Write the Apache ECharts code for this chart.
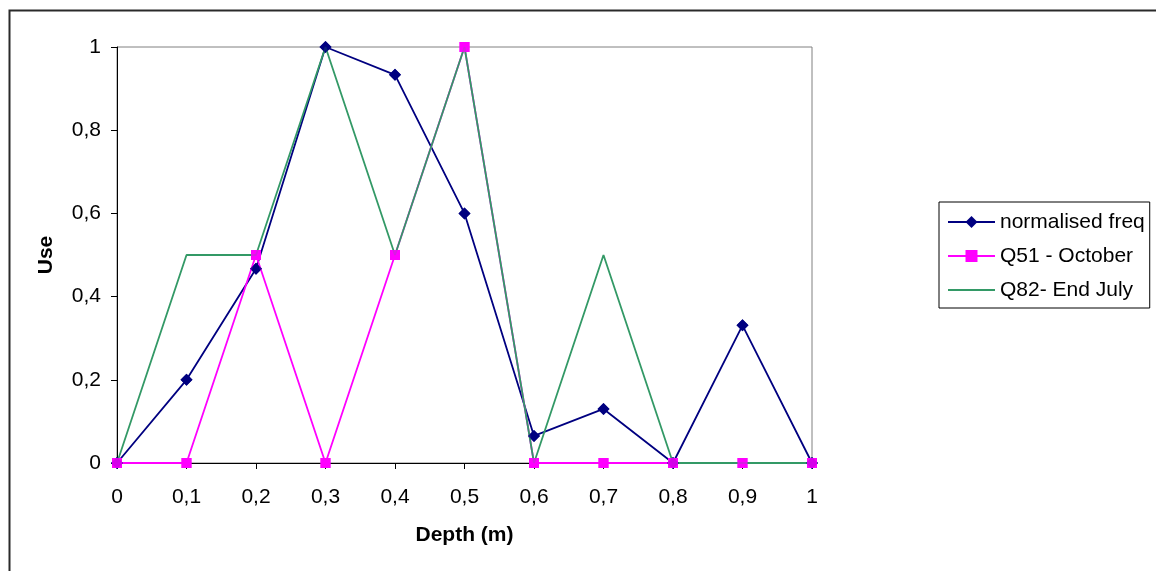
<!DOCTYPE html>
<html>
<head>
<meta charset="utf-8">
<script src="https://cdn.jsdelivr.net/npm/echarts@6/dist/echarts.min.js"></script>
<style>
html,body{margin:0;padding:0;background:#fff;}
#c{width:1156px;height:571px;}
</style>
</head>
<body>
<div id="c"></div>
<script>
const depthLabels = ['0','0,1','0,2','0,3','0,4','0,5','0,6','0,7','0,8','0,9','1'];
const normalisedFreq = [0, 0.2, 0.467, 1, 0.933, 0.6, 0.065, 0.13, 0, 0.331, 0];
const q51October = [0, 0, 0.5, 0, 0.5, 1, 0, 0, 0, 0, 0];
const q82EndJuly = [0, 0.5, 0.5, 1, 0.5, 1, 0, 0.5, 0, 0, 0];
const seriesNames = ['normalised freq', 'Q51 - October', 'Q82- End July'];

const FONT = '"Liberation Sans", Arial, sans-serif';
const fmt = v => String(+(+v).toFixed(1)).replace('.', ',');

const chart = echarts.init(document.getElementById('c'), null, {renderer: 'canvas'});
chart.setOption({
  animation: false,
  backgroundColor: '#fff',
  textStyle: {fontFamily: FONT},
  graphic: [{
    type: 'polyline',
    shape: {points: [[9.5, 571], [9.5, 10.5], [1156, 10.5]]},
    style: {stroke: '#2a2a2a', lineWidth: 2, fill: null},
    silent: true
  }],
  grid: {
    left: 117, top: 47, right: 344, bottom: 108,
    show: true, borderColor: '#808080', borderWidth: 1
  },
  legend: {
    data: [
      {name: seriesNames[0]},
      {name: seriesNames[1]},
      {name: seriesNames[2], itemStyle: {opacity: 0}}
    ],
    orient: 'vertical',
    left: 939, top: 202,
    padding: [8, 5, 6, 8],
    itemWidth: 47, itemHeight: 15, itemGap: 10,
    borderColor: '#000', borderWidth: 1,
    textStyle: {fontFamily: FONT, fontSize: 21, color: '#000', lineHeight: 24}
  },
  xAxis: {
    type: 'category',
    data: depthLabels,
    boundaryGap: false,
    name: 'Depth (m)',
    nameLocation: 'middle',
    nameGap: 62,
    nameTextStyle: {fontFamily: FONT, fontSize: 21, fontWeight: 'bold', color: '#000'},
    axisLine: {lineStyle: {color: '#000', width: 1}},
    axisTick: {show: true, length: 6, lineStyle: {color: '#000'}, alignWithLabel: true},
    axisLabel: {fontFamily: FONT, fontSize: 21, color: '#000', margin: 24},
    splitLine: {show: false}
  },
  yAxis: {
    type: 'value',
    min: 0, max: 1, interval: 0.2,
    name: 'Use',
    nameLocation: 'middle',
    nameGap: 60,
    nameRotate: 90,
    nameTextStyle: {fontFamily: FONT, fontSize: 21, fontWeight: 'bold', color: '#000'},
    axisLine: {show: true, lineStyle: {color: '#000', width: 1}},
    axisTick: {show: true, length: 6, lineStyle: {color: '#000'}},
    axisLabel: {fontFamily: FONT, fontSize: 21, color: '#000', margin: 16, formatter: fmt},
    splitLine: {show: false}
  },
  series: [
    {
      name: seriesNames[0], type: 'line', data: normalisedFreq, z: 2,
      symbol: 'diamond', symbolSize: 12, showAllSymbol: true,
      lineStyle: {color: '#000080', width: 1.8},
      itemStyle: {color: '#000080'}
    },
    {
      name: seriesNames[1], type: 'line', data: q51October, z: 3,
      symbol: 'rect', symbolSize: 10, showAllSymbol: true,
      lineStyle: {color: '#FF00FF', width: 1.8},
      itemStyle: {color: '#FF00FF'}
    },
    {
      name: seriesNames[2], type: 'line', data: q82EndJuly, z: 4,
      symbol: 'none',
      lineStyle: {color: '#339966', width: 1.8},
      itemStyle: {color: '#339966'}
    },
    {
      name: seriesNames[0] + ' markers', type: 'scatter', data: normalisedFreq, z: 5,
      symbol: 'diamond', symbolSize: 12, itemStyle: {color: '#000080'}, silent: true
    },
    {
      name: seriesNames[1] + ' markers', type: 'scatter', data: q51October, z: 6,
      symbol: 'rect', symbolSize: 10, itemStyle: {color: '#FF00FF'}, silent: true
    }
  ]
});
</script>
</body>
</html>
